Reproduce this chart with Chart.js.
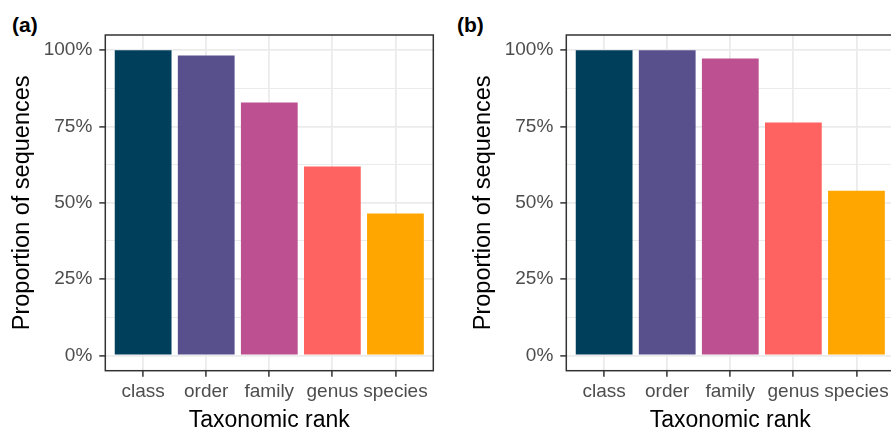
<!DOCTYPE html>
<html lang="en">
<head>
  <meta charset="UTF-8">
  <title>Proportion of sequences by taxonomic rank</title>
  <script src="https://cdn.jsdelivr.net/npm/chart.js"></script>
  <style>
    * {
      margin: 0;
      padding: 0;
      box-sizing: border-box;
    }

    body {
      width: 891px;
      height: 428px;
      overflow: hidden;
      position: relative;
      background: #fff;
      font-family: "Liberation Sans", Arial, sans-serif;
    }

    .panel {
      position: absolute;
      top: 0;
    }

    /* (a) / (b) tags */
    .tag {
      position: absolute;
      top: 13px;
      font-size: 21px;
      font-weight: bold;
      color: #000;
    }
  </style>
</head>
<body>
  <div class="tag" style="left: 12px;">(a)</div>
  <div class="tag" style="left: 457px;">(b)</div>
  <canvas id="chartA" class="panel" width="445" height="428" style="left: 0px;"></canvas>
  <canvas id="chartB" class="panel" width="445" height="428" style="left: 461.4px;"></canvas>

  <script>
    const categories = ['class', 'order', 'family', 'genus', 'species'];
    const valuesA = [100, 98.3, 82.9, 61.9, 46.5];
    const valuesB = [100, 100, 97.3, 76.3, 54.0];
    const barColors = ['#003f5c', '#58508d', '#bc5090', '#ff6361', '#ffa600'];
    const yTicks = [0, 25, 50, 75, 100];
    const yMinorTicks = [12.5, 37.5, 62.5, 87.5];

    const isMajor = v => yTicks.includes(v);

    // box around the panel, like theme_bw
    const panelBorder = {
      id: 'panelBorder',
      afterDatasetsDraw(chart) {
        const { ctx, chartArea: a } = chart;
        ctx.save();
        ctx.strokeStyle = '#333333';
        ctx.lineWidth = 1.5;
        ctx.strokeRect(a.left, a.top, a.right - a.left, a.bottom - a.top);
        ctx.restore();
      }
    };

    function makeChart(id, values) {
      const ctx = document.getElementById(id).getContext('2d');
      return new Chart(ctx, {
        type: 'bar',
        data: {
          datasets: [{
            data: values.map((v, i) => ({ x: i + 1, y: v })),
            backgroundColor: barColors,
            borderWidth: 0,
            categoryPercentage: 1,
            barPercentage: 0.9
          }]
        },
        plugins: [panelBorder],
        options: {
          responsive: false,
          animation: false,
          events: [],
          layout: { padding: { top: 35, right: 11.7, left: 0, bottom: 0 } },
          plugins: {
            legend: { display: false },
            tooltip: { enabled: false }
          },
          scales: {
            x: {
              type: 'linear',
              min: 0.4,
              max: 5.6,
              offset: false,
              afterBuildTicks: s => { s.ticks = categories.map((c, i) => ({ value: i + 1 })); },
              afterFit: s => { s.height = 57.3; },
              border: { display: false },
              grid: {
                offset: false,
                color: '#EBEBEB',
                lineWidth: 1.8,
                tickColor: '#333333',
                tickWidth: 1.5,
                tickLength: 6
              },
              ticks: {
                autoSkip: false,
                maxRotation: 0,
                minRotation: 0,
                padding: 4,
                color: '#4D4D4D',
                font: { family: '"Liberation Sans", Arial, sans-serif', size: 19 },
                callback: v => categories[v - 1]
              },
              title: {
                display: true,
                text: 'Taxonomic rank',
                color: '#000',
                font: { family: '"Liberation Sans", Arial, sans-serif', size: 23, lineHeight: 0.55 },
                padding: { top: 0, bottom: 1 }
              }
            },
            y: {
              min: -5,
              max: 105,
              afterBuildTicks: s => {
                s.ticks = yTicks.concat(yMinorTicks).sort((p, q) => p - q).map(v => ({ value: v }));
              },
              afterFit: s => { s.width = 105.3; },
              border: { display: false },
              grid: {
                color: '#EBEBEB',
                lineWidth: c => isMajor(c.tick.value) ? 1.8 : 1.1,
                tickColor: c => isMajor(c.tick.value) ? '#333333' : 'rgba(0,0,0,0)',
                tickWidth: 1.5,
                tickLength: 6
              },
              ticks: {
                padding: 7,
                color: '#4D4D4D',
                font: { family: '"Liberation Sans", Arial, sans-serif', size: 19 },
                callback: v => isMajor(v) ? v + '%' : ''
              },
              title: {
                display: true,
                text: 'Proportion of sequences',
                color: '#000',
                font: { family: '"Liberation Sans", Arial, sans-serif', size: 23.5 },
                padding: { top: 8, bottom: 0 }
              }
            }
          }
        }
      });
    }

    makeChart('chartA', valuesA);
    makeChart('chartB', valuesB);
  </script>
</body>
</html>
